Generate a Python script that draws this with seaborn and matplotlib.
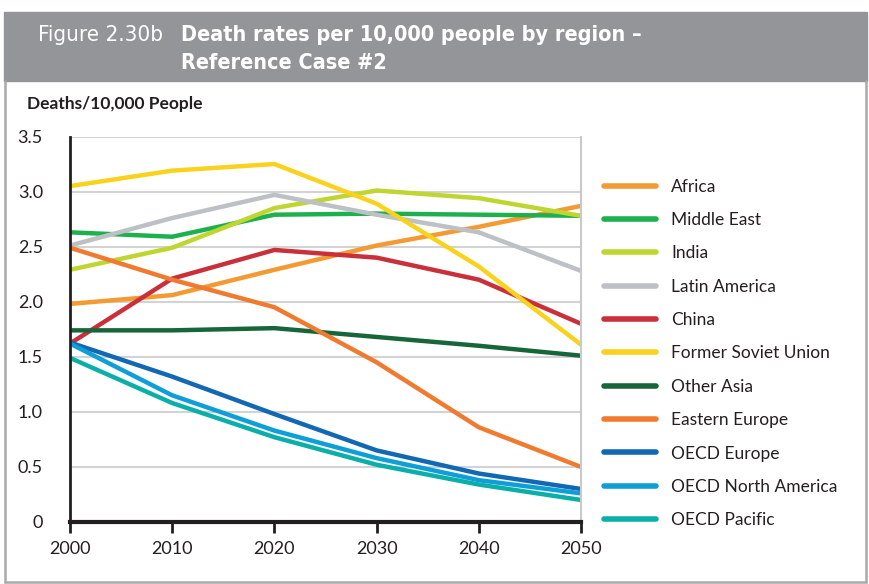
import pandas as pd
import seaborn as sns
import matplotlib.pyplot as plt
from matplotlib.patches import Rectangle
from matplotlib.lines import Line2D

years = [2000, 2010, 2020, 2030, 2040, 2050]

regions = ['Africa', 'Middle East', 'India', 'Latin America', 'China',
           'Former Soviet Union', 'Other Asia', 'Eastern Europe',
           'OECD Europe', 'OECD North America', 'OECD Pacific']

africa = [1.98, 2.06, 2.29, 2.51, 2.68, 2.87]
middle_east = [2.63, 2.59, 2.79, 2.80, 2.79, 2.78]
india = [2.29, 2.49, 2.85, 3.01, 2.94, 2.78]
latin_america = [2.51, 2.76, 2.97, 2.79, 2.63, 2.28]
china = [1.62, 2.21, 2.47, 2.40, 2.20, 1.80]
former_soviet_union = [3.05, 3.19, 3.25, 2.89, 2.32, 1.61]
other_asia = [1.74, 1.74, 1.76, 1.68, 1.60, 1.51]
eastern_europe = [2.49, 2.20, 1.95, 1.45, 0.86, 0.50]
oecd_europe = [1.63, 1.32, 0.98, 0.65, 0.44, 0.30]
oecd_north_america = [1.62, 1.15, 0.83, 0.58, 0.38, 0.26]
oecd_pacific = [1.49, 1.08, 0.77, 0.52, 0.34, 0.20]

colors = ['#F39A32', '#1DB04F', '#BFD630', '#BDC0C4', '#C9303A', '#F9D21D',
          '#17663A', '#F07A2F', '#1268B3', '#0E9ED8', '#0BAFAA']

series = [africa, middle_east, india, latin_america, china, former_soviet_union,
          other_asia, eastern_europe, oecd_europe, oecd_north_america, oecd_pacific]

rows = []
for name, vals in zip(regions, series):
    for yr, v in zip(years, vals):
        rows.append({'Year': yr, 'Region': name, 'Rate': v})
df = pd.DataFrame(rows)

sns.set_style('white')
plt.rcParams['font.family'] = ['Lato', 'DejaVu Sans']

W, H = 869, 584
fig = plt.figure(figsize=(W / 100, H / 100), dpi=100)

# header band and frame
fig.patches.append(Rectangle((4 / W, 1 - 81 / H), 863 / W, 69 / H,
                             transform=fig.transFigure, color='#939598', zorder=0))
for xs, ys in [([5, 5], [81, 582]), ([866, 866], [81, 582]), ([5, 866], [582, 582])]:
    fig.add_artist(Line2D([x / W for x in xs], [1 - y / H for y in ys],
                          transform=fig.transFigure, color='#A7A9AC', lw=1.8))

tfont = ['Liberation Sans Narrow', 'DejaVu Sans']
fig.text(38 / W, 1 - 35 / H, 'Figure 2.30b', color='white', fontsize=16,
         family=tfont, stretch='condensed', va='center', ha='left')
fig.text(181 / W, 1 - 35 / H, 'Death rates per 10,000 people by region \u2013', color='white',
         fontsize=15.5, family=tfont, stretch='condensed', weight='bold', va='center', ha='left')
fig.text(181 / W, 1 - 63 / H, 'Reference Case #2', color='white',
         fontsize=15.5, family=tfont, stretch='condensed', weight='bold', va='center', ha='left')

fig.text(27 / W, 1 - 104 / H, 'Deaths/10,000 People', fontsize=12.5, weight='bold',
         color='#231F20', va='center', ha='left')

ax = fig.add_axes([70 / W, 1 - 522 / H, 511 / W, 385.5 / H])
sns.lineplot(data=df, x='Year', y='Rate', hue='Region', hue_order=regions,
             palette=dict(zip(regions, colors)), linewidth=3.2, ax=ax, legend=False)

ax.set_xlim(2000, 2050)
ax.set_ylim(0, 3.5)
ax.set_xticks(years)
ax.set_yticks([0, 0.5, 1.0, 1.5, 2.0, 2.5, 3.0, 3.5])
ax.set_yticklabels(['0', '0.5', '1.0', '1.5', '2.0', '2.5', '3.0', '3.5'])
ax.set_xlabel('')
ax.set_ylabel('')
ax.grid(axis='y', color='#D1D3D4', lw=1.5)
ax.set_axisbelow(True)
ax.spines['top'].set_visible(False)
ax.spines['right'].set_color('#C7C9CB')
ax.spines['right'].set_linewidth(1.5)
ax.spines['left'].set_color('#231F20')
ax.spines['left'].set_linewidth(2)
ax.spines['bottom'].set_color('#231F20')
ax.spines['bottom'].set_linewidth(3)
ax.tick_params(axis='x', bottom=True, length=8, width=2, color='#231F20', pad=6,
               labelsize=13, labelcolor='#231F20')
ax.tick_params(axis='y', left=False, pad=16, labelsize=13, labelcolor='#231F20')

handles = [Line2D([0], [0], color=c, lw=4) for c in colors]
fig.legend(handles, regions, loc='upper left', bbox_to_anchor=(588 / W, 1 - 163 / H),
           frameon=False, fontsize=12.5, handlelength=3.0, handletextpad=0.9,
           labelspacing=1.0, labelcolor='#231F20')

fig.savefig('out.png', dpi=100)
